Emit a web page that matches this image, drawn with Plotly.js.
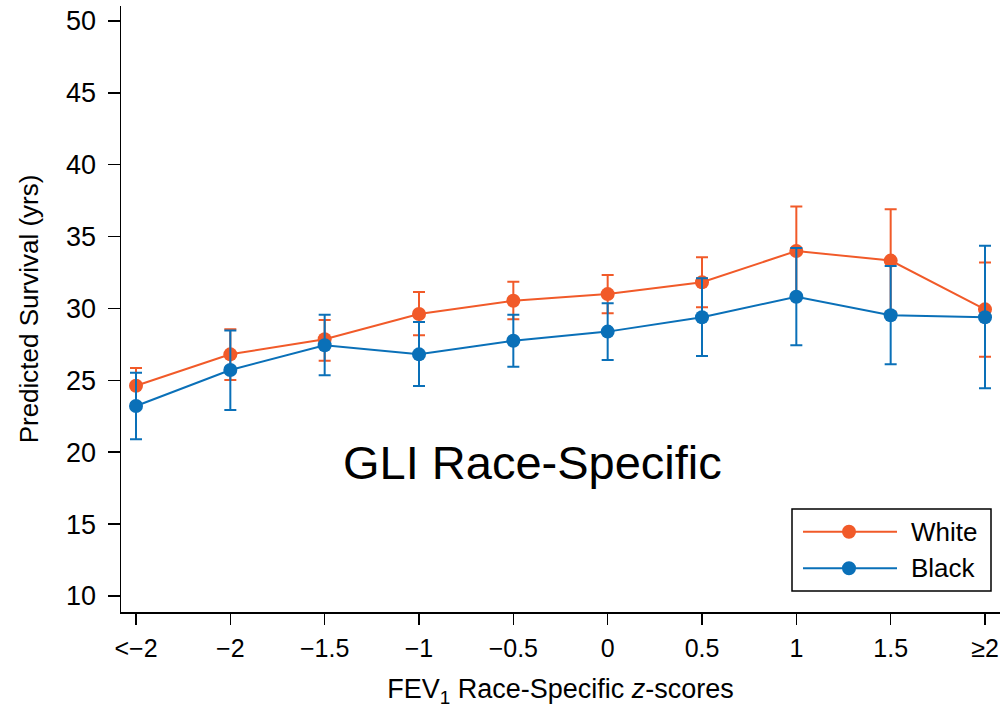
<!DOCTYPE html>
<html>
<head>
<meta charset="utf-8">
<script src="https://cdn.plot.ly/plotly-3.0.1.min.js"></script>
<style>html,body{margin:0;padding:0;background:#fff;}#chart{width:1005px;height:708px;}</style>
</head>
<body>
<div id="chart"></div>
<script>
// ---- data ----
const categories = ['<\u22122', '\u22122', '\u22121.5', '\u22121', '\u22120.5', '0', '0.5', '1', '1.5', '\u22652'];
const whiteMean  = [24.63, 26.81, 27.86, 29.62, 30.54, 31.00, 31.82, 34.00, 33.33, 29.94];
const whiteUpper = [25.86, 28.55, 29.20, 31.15, 31.86, 32.33, 33.56, 37.10, 36.90, 33.19];
const whiteLower = [23.40, 25.03, 26.37, 28.14, 29.25, 29.67, 30.08, 30.90, 29.76, 26.65];
const blackMean  = [23.22, 25.72, 27.44, 26.81, 27.76, 28.39, 29.39, 30.82, 29.53, 29.39];
const blackUpper = [25.53, 28.46, 29.57, 29.06, 29.57, 30.36, 32.10, 34.20, 32.96, 34.37];
const blackLower = [20.90, 22.94, 25.35, 24.61, 25.95, 26.42, 26.70, 27.44, 26.12, 24.45];
const seriesNames = ['White', 'Black'];
const yTickVals = [10, 15, 20, 25, 30, 35, 40, 45, 50];
const panelLabel = 'GLI Race-Specific';
const xTitle = 'FEV<sub>1</sub> Race-Specific <i>z</i>-scores';
const yTitle = 'Predicted Survival (yrs)';

const ORANGE = '#F15A29';
const BLUE = '#0A70B8';
const FONT = 'Liberation Sans, Arial, Helvetica, sans-serif';

function diff(a, b) { return a.map((v, i) => v - b[i]); }

function makeTrace(name, mean, up, lo, color) {
  return {
    type: 'scatter', mode: 'lines+markers', name: name,
    x: categories, y: mean,
    line: {color: color, width: 2},
    marker: {color: color, size: 14},
    error_y: {type: 'data', symmetric: false,
      array: diff(up, mean), arrayminus: diff(mean, lo),
      color: color, thickness: 2, width: 6},
    showlegend: false,
    cliponaxis: false
  };
}

const traces = [
  makeTrace(seriesNames[0], whiteMean, whiteUpper, whiteLower, ORANGE),
  makeTrace(seriesNames[1], blackMean, blackUpper, blackLower, BLUE)
];

// custom legend (box, long line samples, markers)
const L = 121, R = 1000, T = 6, B = 612;
const px = v => (v - L) / (R - L);
const py = v => (B - v) / (B - T);
const legendRows = [531.7, 568.3];
const legendColors = [ORANGE, BLUE];
const shapes = [{
  type: 'rect', xref: 'paper', yref: 'paper',
  x0: px(792), x1: px(991), y0: py(591), y1: py(509),
  line: {color: '#000', width: 1.5}, fillcolor: '#fff', layer: 'above'
}];
const annotations = [{
  text: panelLabel, xref: 'x', yref: 'y', x: 4.2, y: 19.32,
  showarrow: false, font: {family: FONT, size: 47, color: '#000'}
}];
legendRows.forEach((ry, i) => {
  shapes.push({type: 'line', xref: 'paper', yref: 'paper',
    x0: px(803), x1: px(897), y0: py(ry), y1: py(ry),
    line: {color: legendColors[i], width: 2}, layer: 'above'});
  shapes.push({type: 'circle', xref: 'paper', yref: 'paper',
    xsizemode: 'pixel', ysizemode: 'pixel', xanchor: px(849), yanchor: py(ry),
    x0: -7, x1: 7, y0: -7, y1: 7,
    fillcolor: legendColors[i], line: {color: legendColors[i], width: 0}, layer: 'above'});
  annotations.push({text: seriesNames[i], xref: 'paper', yref: 'paper',
    x: px(909), y: py(ry), xanchor: 'left', yanchor: 'middle', showarrow: false,
    font: {family: FONT, size: 26, color: '#000'}});
});

const layout = {
  width: 1005, height: 708,
  margin: {l: L, r: 1005 - R, t: T, b: 708 - B},
  paper_bgcolor: '#fff', plot_bgcolor: '#fff',
  font: {family: FONT, color: '#000', size: 26},
  showlegend: false,
  xaxis: {
    type: 'category', range: [-0.159, 9.159],
    showgrid: false, zeroline: false,
    showline: true, linecolor: '#000', linewidth: 1.5,
    ticks: 'outside', ticklen: 11, tickwidth: 1.5, tickcolor: '#000',
    tickfont: {family: FONT, size: 25, color: '#000'},
    ticklabelstandoff: 2,
    title: {text: xTitle, font: {family: FONT, size: 27, color: '#000'}, standoff: 20}
  },
  yaxis: {
    range: [8.887, 51.04], tickvals: yTickVals,
    showgrid: false, zeroline: false,
    showline: true, linecolor: '#000', linewidth: 1.5,
    ticks: 'outside', ticklen: 12, tickwidth: 1.5, tickcolor: '#000',
    tickfont: {family: FONT, size: 27, color: '#000'},
    ticklabelstandoff: 6,
    title: {text: yTitle, font: {family: FONT, size: 26, color: '#000'}, standoff: 20}
  },
  shapes: shapes,
  annotations: annotations
};

Plotly.newPlot('chart', traces, layout, {displayModeBar: false, staticPlot: true});
</script>
</body>
</html>
